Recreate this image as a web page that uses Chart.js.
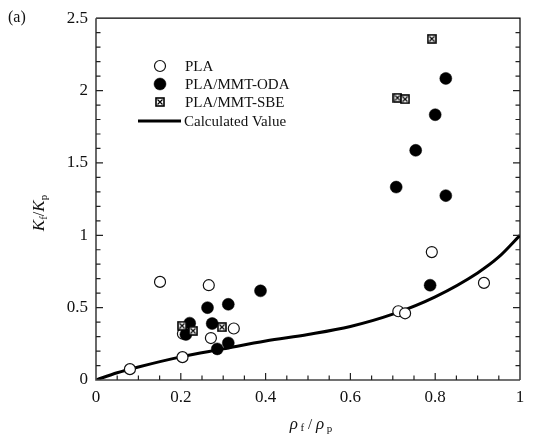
<!DOCTYPE html>
<html>
<head>
<meta charset="utf-8">
<script src="https://cdn.jsdelivr.net/npm/chart.js@4.4.0/dist/chart.umd.min.js"></script>
<style>
  html, body { margin: 0; padding: 0; background: #fff; }
  #wrap { width: 534px; height: 448px; }
</style>
</head>
<body>
<div id="wrap"><canvas id="grafico"></canvas></div>
<script>
// density ratio (x) vs conductivity ratio (y)
const plaX = [0.08, 0.151, 0.204, 0.205, 0.266, 0.271, 0.325, 0.713, 0.729, 0.792, 0.915];
const plaY = [0.075, 0.678, 0.158, 0.32, 0.655, 0.29, 0.356, 0.475, 0.461, 0.884, 0.671];

const odaX = [0.212, 0.221, 0.263, 0.274, 0.286, 0.312, 0.312, 0.388, 0.708, 0.754, 0.788, 0.800, 0.825, 0.825];
const odaY = [0.315, 0.393, 0.50, 0.39, 0.215, 0.523, 0.256, 0.616, 1.333, 1.587, 0.655, 1.833, 2.084, 1.274];

const sbeX = [0.203, 0.229, 0.297, 0.711, 0.729, 0.792];
const sbeY = [0.375, 0.34, 0.365, 1.95, 1.94, 2.358];

const calcX = [0, 0.05, 0.1, 0.2, 0.3, 0.4, 0.5, 0.6, 0.7, 0.8, 0.9, 0.95, 1.0];
const calcY = [0, 0.05, 0.09, 0.16, 0.215, 0.27, 0.315, 0.37, 0.455, 0.575, 0.74, 0.85, 1.0];

const xTicks = [0, 0.2, 0.4, 0.6, 0.8, 1];
const yTicks = [0, 0.5, 1, 1.5, 2, 2.5];

const SERIF = '"Liberation Serif", "Times New Roman", serif';
Chart.defaults.font.family = SERIF;

const puntos = (xs, ys) => xs.map((v, i) => ({ x: v, y: ys[i] }));

// square with a cross inside, used for PLA/MMT-SBE
function crearCuadro() {
    const c = document.createElement('canvas');
    c.width = 10; c.height = 10;
    const g = c.getContext('2d');
    g.fillStyle = '#fff';
    g.fillRect(1, 1, 8, 8);
    g.strokeStyle = '#000';
    g.lineWidth = 1.6;
    g.strokeRect(1, 1, 8, 8);
    g.lineWidth = 1.2;
    g.beginPath();
    g.moveTo(2.5, 2.5); g.lineTo(7.5, 7.5);
    g.moveTo(7.5, 2.5); g.lineTo(2.5, 7.5);
    g.stroke();
    return c;
}
const cuadro = crearCuadro();

// frame and inward ticks
const marcoPlugin = {
    id: 'marco',
    afterDatasetsDraw(chart) {
        const { ctx, chartArea: a, scales: { x, y } } = chart;
        ctx.save();
        ctx.strokeStyle = '#000';
        ctx.lineWidth = 1.2;
        ctx.beginPath();
        ctx.moveTo(a.left, a.top); ctx.lineTo(a.right, a.top); ctx.lineTo(a.right, a.bottom);
        ctx.stroke();
        ctx.strokeStyle = '#444';
        ctx.lineWidth = 1.6;
        ctx.beginPath();
        ctx.moveTo(a.left, a.top); ctx.lineTo(a.left, a.bottom); ctx.lineTo(a.right, a.bottom);
        ctx.stroke();

        ctx.lineWidth = 1.2;
        ctx.strokeStyle = '#222';
        ctx.beginPath();
        for (let i = 1; i < 20; i++) {
            const px = x.getPixelForValue(i * 0.05);
            const len = i % 4 === 0 ? 7 : 4.5;
            ctx.moveTo(px, a.bottom); ctx.lineTo(px, a.bottom - len);
        }
        for (let i = 1; i < 25; i++) {
            const py = y.getPixelForValue(i * 0.1);
            const len = i % 5 === 0 ? 7 : 4.5;
            ctx.moveTo(a.left, py); ctx.lineTo(a.left + len, py);
            ctx.moveTo(a.right, py); ctx.lineTo(a.right - len, py);
        }
        ctx.stroke();
        ctx.restore();
    }
};

// draws a run of [text, font, dy] pieces centred on (0,0)
function textoCompuesto(ctx, piezas) {
    let total = 0;
    piezas.forEach(p => { ctx.font = p[1]; total += ctx.measureText(p[0]).width; });
    let cx = -total / 2;
    piezas.forEach(p => {
        ctx.font = p[1];
        ctx.fillText(p[0], cx, p[2]);
        cx += ctx.measureText(p[0]).width;
    });
}

const textosPlugin = {
    id: 'textos',
    afterDraw(chart) {
        const { ctx, chartArea: a } = chart;
        ctx.save();
        ctx.fillStyle = '#111';
        ctx.textBaseline = 'alphabetic';
        ctx.textAlign = 'left';

        ctx.font = '16px ' + SERIF;
        ctx.fillText('(a)', 8, 22);

        // y title
        ctx.save();
        ctx.translate(44, 213);
        ctx.rotate(-Math.PI / 2);
        textoCompuesto(ctx, [
            ['K', 'italic 17px ' + SERIF, 0],
            ['f', '11px ' + SERIF, 3],
            ['/', '16px ' + SERIF, 0],
            ['K', 'italic 17px ' + SERIF, 0],
            ['p', '11px ' + SERIF, 3]
        ]);
        ctx.restore();

        // x title
        ctx.save();
        ctx.translate((a.left + a.right) / 2 + 3, 429);
        textoCompuesto(ctx, [
            ['ρ', 'italic 17px ' + SERIF, 0],
            [' f', '11px ' + SERIF, 2],
            [' / ', '15px ' + SERIF, 0],
            ['ρ', 'italic 17px ' + SERIF, 0],
            [' p', '11px ' + SERIF, 3]
        ]);
        ctx.restore();

        // legend
        const lx = 160, tx = 185;
        ctx.font = '15px ' + SERIF;
        ctx.textBaseline = 'middle';
        chart.data.datasets.forEach((ds, i) => {
            const ly = [66, 84, 102, 121][i];
            if (ds.showLine) {
                ctx.strokeStyle = ds.borderColor;
                ctx.lineWidth = ds.borderWidth;
                ctx.beginPath();
                ctx.moveTo(138, ly); ctx.lineTo(181, ly);
                ctx.stroke();
            } else if (ds.pointStyle === 'circle') {
                ctx.beginPath();
                ctx.arc(lx, ly, ds.pointRadius, 0, Math.PI * 2);
                ctx.fillStyle = ds.backgroundColor;
                ctx.fill();
                ctx.lineWidth = ds.borderWidth;
                ctx.strokeStyle = ds.borderColor;
                ctx.stroke();
            } else {
                ctx.drawImage(ds.pointStyle, lx - 5, ly - 5);
            }
            ctx.fillStyle = '#111';
            ctx.fillText(ds.label, ds.showLine ? 184 : tx, ly + 1);
        });
        ctx.restore();
    }
};

new Chart(document.getElementById('grafico'), {
    type: 'scatter',
    data: {
        datasets: [
            {
                label: 'PLA',
                data: puntos(plaX, plaY),
                pointStyle: 'circle',
                pointRadius: 5.5,
                backgroundColor: '#fff',
                borderColor: '#111',
                borderWidth: 1.2,
                order: 2
            },
            {
                label: 'PLA/MMT-ODA',
                data: puntos(odaX, odaY),
                pointStyle: 'circle',
                pointRadius: 6,
                backgroundColor: '#000',
                borderColor: '#000',
                borderWidth: 0.5,
                order: 1
            },
            {
                label: 'PLA/MMT-SBE',
                data: puntos(sbeX, sbeY),
                pointStyle: cuadro,
                pointRadius: 5,
                order: 0
            },
            {
                label: 'Calculated Value',
                data: puntos(calcX, calcY),
                showLine: true,
                borderColor: '#000',
                borderWidth: 3,
                pointRadius: 0,
                cubicInterpolationMode: 'monotone',
                order: 3
            }
        ]
    },
    options: {
        responsive: true,
        maintainAspectRatio: false,
        animation: false,
        layout: { padding: { top: 15, right: 14, left: 0, bottom: 0 } },
        plugins: {
            legend: { display: false },
            tooltip: { enabled: false }
        },
        scales: {
            x: {
                type: 'linear',
                min: 0, max: 1,
                grid: { display: false, drawTicks: false },
                border: { display: false },
                afterBuildTicks: s => { s.ticks = xTicks.map(v => ({ value: v })); },
                afterFit: s => { s.height = 68; },
                ticks: {
                    padding: 7,
                    color: '#111',
                    font: { family: SERIF, size: 17 },
                    callback: v => String(Number(v.toFixed(1)))
                }
            },
            y: {
                type: 'linear',
                min: 0, max: 2.5,
                grid: { display: false, drawTicks: false },
                border: { display: false },
                afterBuildTicks: s => { s.ticks = yTicks.map(v => ({ value: v })); },
                afterFit: s => { s.width = 96; },
                ticks: {
                    padding: 8,
                    color: '#111',
                    font: { family: SERIF, size: 17 },
                    callback: v => String(Number(v.toFixed(1)))
                }
            }
        }
    },
    plugins: [marcoPlugin, textosPlugin]
});
</script>
</body>
</html>
